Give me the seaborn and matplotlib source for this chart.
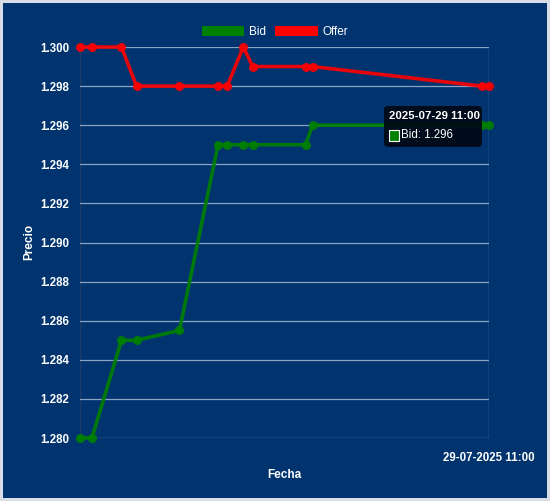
import numpy as np
import pandas as pd
import seaborn as sns
import matplotlib.pyplot as plt
from matplotlib.patches import Patch, FancyBboxPatch, Rectangle

# Datos
fechas = ['2025-07-28 11:00', '2025-07-28 11:42', '2025-07-28 13:26', '2025-07-28 14:19',
          '2025-07-28 16:50', '2025-07-28 19:06', '2025-07-28 19:38', '2025-07-28 20:35',
          '2025-07-28 21:08', '2025-07-29 00:14', '2025-07-29 00:39', '2025-07-29 10:34',
          '2025-07-29 11:00']
bid = [1.280, 1.280, 1.285, 1.285, 1.2855, 1.295, 1.295, 1.295, 1.295, 1.295, 1.296, 1.296, 1.296]
offer = [1.300, 1.300, 1.300, 1.298, 1.298, 1.298, 1.298, 1.300, 1.299, 1.299, 1.299, 1.298, 1.298]
series = ['Bid', 'Offer']
colores = {'Bid': '#008000', 'Offer': '#ff0000'}
y_ticks = [1.280, 1.282, 1.284, 1.286, 1.288, 1.290, 1.292, 1.294, 1.296, 1.298, 1.300]

fondo = '#01346f'
grid = '#8aa3c4'
W, H = 550, 501

t = pd.to_datetime(fechas)
df = pd.DataFrame({
    'Fecha': list(t) * 2,
    'Precio': bid + offer,
    'Serie': ['Bid'] * len(bid) + ['Offer'] * len(offer),
})

sns.set_style('white')
plt.rcParams['font.family'] = ['Liberation Sans', 'DejaVu Sans']

fig = plt.figure(figsize=(5.5, 5.01), dpi=100)
fig.patch.set_facecolor(fondo)
fig.patch.set_edgecolor('#d8dde6')
fig.patch.set_linewidth(3)
ax = fig.add_axes([80 / W, 1 - 438 / H, 409 / W, 391 / H])
ax.set_facecolor(fondo)

sns.lineplot(data=df, x='Fecha', y='Precio', hue='Serie', palette=colores,
             marker='o', markersize=6.5, markeredgewidth=0, linewidth=2.6,
             legend=False, ax=ax, clip_on=False, alpha=0.9)

ax.set_xlim(t[0], t[-1])
ax.set_ylim(1.280, 1.300)
ax.set_yticks(y_ticks)
ax.set_yticklabels(['{:.3f}'.format(v) for v in y_ticks])
ax.set_xticks([t[-1]])
ax.set_xticklabels([t[-1].strftime('%d-%m-%Y %H:%M')])

for s in ax.spines.values():
    s.set_visible(False)
ax.grid(True, axis='y', color=grid, linewidth=0.9)
ax.grid(True, axis='x', color=grid, linewidth=0.9)
ax.axvline(t[0], color='#1c3b66', linewidth=1, zorder=0)
ax.set_axisbelow(True)
ax.tick_params(axis='both', colors=grid, length=7, width=0.9, labelcolor='white',
               labelsize=8.3)
ax.tick_params(axis='y', pad=1)
ax.tick_params(axis='x', pad=3)
for lab in ax.get_yticklabels() + ax.get_xticklabels():
    lab.set_fontweight('bold')

ax.set_xlabel('Fecha', color='white', fontsize=8.5, fontweight='bold', labelpad=4)
ax.set_ylabel('Precio', color='white', fontsize=8.5, fontweight='bold')
ax.yaxis.set_label_coords(35 / W, 1 - 242 / H, transform=fig.transFigure)

handles = [Patch(facecolor=colores[s], edgecolor='none', label=s) for s in series]
fig.legend(handles=handles, loc='center', bbox_to_anchor=(0.5, 1 - 32 / H), ncol=2,
           frameon=False, handlelength=3.6, handleheight=1.0, handletextpad=0.4,
           columnspacing=0.8, labelcolor='white', fontsize=8.5)

# Tooltip
caja = FancyBboxPatch((384 / W, 1 - 147 / H), 98 / W, 41 / H,
                      boxstyle='round,pad=0,rounding_size=0.008',
                      transform=fig.transFigure, fc='#000814', ec='none', alpha=0.92,
                      zorder=10)
fig.patches.append(caja)
fig.text(389 / W, 1 - 116 / H, '2025-07-29 11:00', color='white', fontsize=8.2,
         fontweight='bold', ha='left', va='center', zorder=11)
cuadro = Rectangle((389 / W, 1 - 141 / H), 10 / W, 11 / H, transform=fig.transFigure,
                   fc=colores['Bid'], ec='white', lw=0.8, zorder=11)
fig.patches.append(cuadro)
fig.text(401 / W, 1 - 135.5 / H, 'Bid: 1.296', color='white', fontsize=8.3,
         ha='left', va='center', zorder=11)

plt.savefig('out.png', dpi=100, facecolor=fondo)
